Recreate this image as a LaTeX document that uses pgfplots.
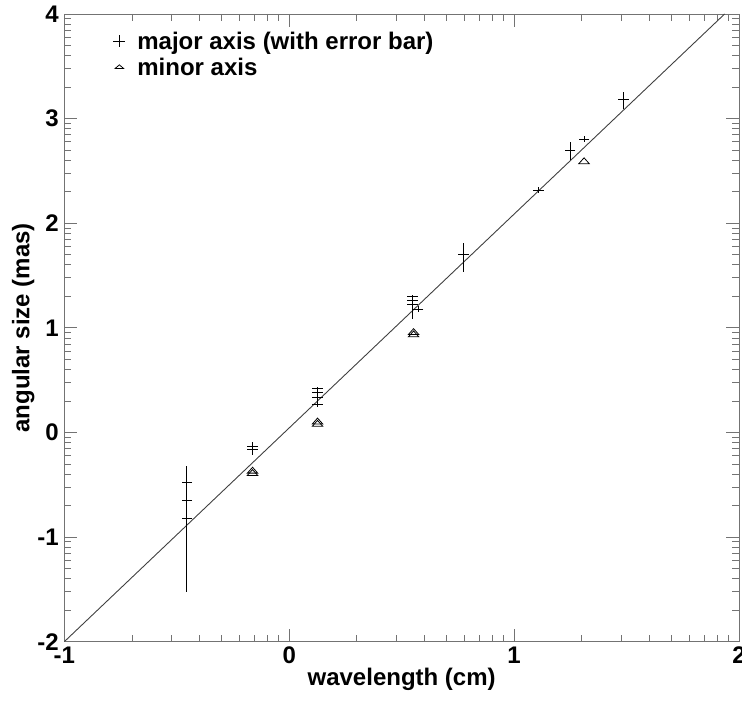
\documentclass[border=0pt]{standalone}
\usepackage{fontspec}
\setmainfont{Liberation Sans}
\usepackage{pgfplots}
\usepackage{pgfplotstable}
\pgfplotsset{compat=1.18}
\usetikzlibrary{calc}

\pgfplotstableread{
x y ep em
-0.455 -0.477 0.156 0.15
-0.455 -0.653 0.06 0.06
-0.455 -0.818 0.20 0.705
-0.163 -0.130 0.041 0.04
-0.163 -0.162 0.04 0.054
0.126 0.422 0.015 0.02
0.126 0.383 0.03 0.03
0.126 0.338 0.099 0.098
0.126 0.272 0.03 0.03
0.547 1.297 0.017 0.02
0.547 1.259 0.03 0.03
0.547 1.228 0.086 0.144
0.573 1.177 0.03 0.03
0.775 1.703 0.111 0.172
1.108 2.317 0.03 0.03
1.249 2.700 0.079 0.096
1.311 2.805 0.03 0.03
1.486 3.180 0.077 0.088
}\majortab

\pgfplotstableread{
x y
-0.163 -0.370
-0.163 -0.392
0.126 0.100
0.126 0.078
0.553 0.955
0.553 0.933
1.311 2.588
}\minortab

\definecolor{axgray}{gray}{0.45}

\begin{document}
\begin{tikzpicture}
\begin{axis}[
  name=ax,
  scale only axis,
  width=674.7pt, height=627.7pt,
  xmin=-1, xmax=2, ymin=-2, ymax=4,
  xtick={-1,0,1,2}, xticklabels={-1,0,1,2},
  ytick={-2,-1,0,1,2,3,4}, yticklabels={-2,-1,0,1,2,3,4},
  minor xtick={-0.69897,-0.52288,-0.39794,-0.30103,-0.22185,-0.15490,-0.09691,-0.04576,
    0.30103,0.47712,0.60206,0.69897,0.77815,0.84510,0.90309,0.95424,
    1.30103,1.47712,1.60206,1.69897,1.77815,1.84510,1.90309,1.95424},
  minor ytick={-1.69897,-1.52288,-1.39794,-1.30103,-1.22185,-1.15490,-1.09691,-1.04576,
    -0.69897,-0.52288,-0.39794,-0.30103,-0.22185,-0.15490,-0.09691,-0.04576,
    0.30103,0.47712,0.60206,0.69897,0.77815,0.84510,0.90309,0.95424,
    1.30103,1.47712,1.60206,1.69897,1.77815,1.84510,1.90309,1.95424,
    2.30103,2.47712,2.60206,2.69897,2.77815,2.84510,2.90309,2.95424,
    3.30103,3.47712,3.60206,3.69897,3.77815,3.84510,3.90309,3.95424},
  tick align=inside,
  major tick length=13pt, minor tick length=7pt,
  tick style={axgray, line width=0.9pt},
  axis line style={axgray, line width=0.9pt},
  ticklabel style={font=\fontsize{24}{28}\selectfont\bfseries},
  xticklabel style={yshift=-2pt},
  yticklabel style={xshift=-2pt},
  label style={font=\fontsize{24}{28}\selectfont\bfseries},
  xlabel={wavelength (cm)},
  ylabel={angular size (mas)},
  xlabel style={yshift=3pt},
  ylabel style={yshift=-4pt},
  legend cell align=left,
  legend style={draw=none, fill=none, at={(0.068,0.978)}, anchor=north west,
    font=\fontsize{24}{28}\selectfont\bfseries, row sep=3pt,
    /tikz/every odd column/.append style={column sep=10pt}},
]
\addlegendimage{only marks, mark=+, mark size=6pt, black, line width=0.8pt}
\addlegendentry{major axis (with error bar)}
\addlegendimage{only marks, mark=triangle, mark size=5pt, black, line width=0.8pt, mark options={yscale=0.5}}
\addlegendentry{minor axis}

\addplot[black!75, line width=0.9pt, forget plot] coordinates {(-1,-2) (1.936,4)};

\addplot[only marks, black, line width=0.9pt, mark=-, mark size=5.3pt, forget plot,
  error bars/.cd, y dir=both, y explicit, error mark=none,
  error bar style={black, line width=0.9pt}]
  table[x=x, y=y, y error plus=ep, y error minus=em] {\majortab};

\addplot[only marks, black, line width=0.8pt, mark=triangle, mark size=6pt,
  mark options={yscale=0.65}, forget plot]
  table[x=x, y=y] {\minortab};
\end{axis}
\pgfresetboundingbox
\path[use as bounding box] ($(ax.south west)+(-64.3pt,-59.3pt)$) rectangle ($(ax.north east)+(3pt,14pt)$);
\end{tikzpicture}
\end{document}
